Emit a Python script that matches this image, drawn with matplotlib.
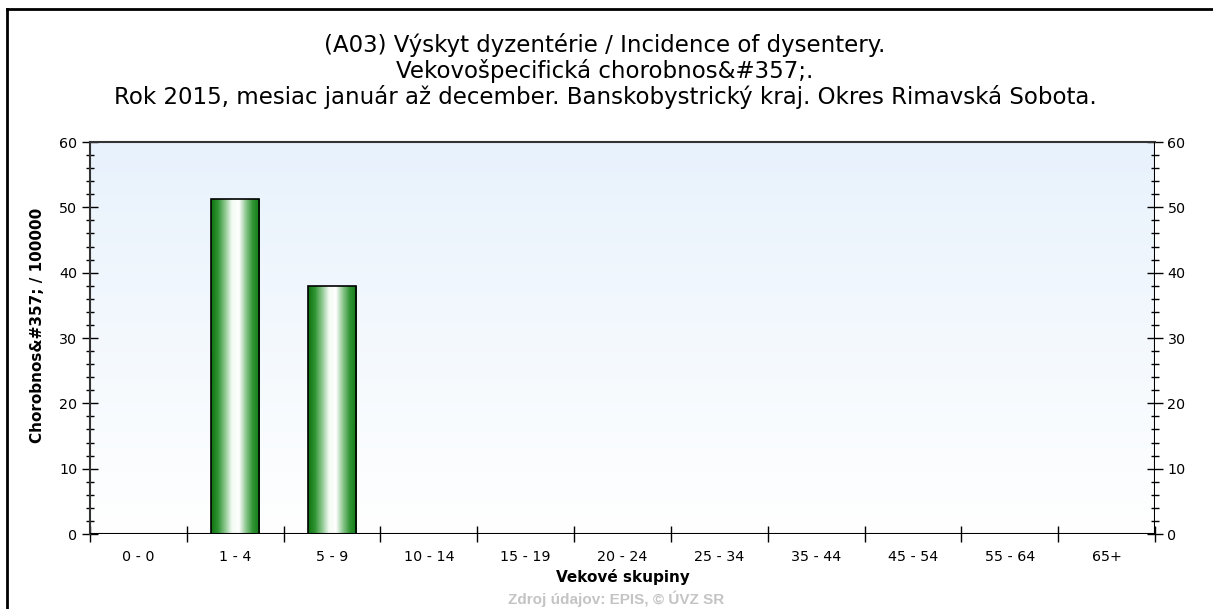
"""
plot.py

Age-specific incidence of dysentery, Rimavska Sobota, 2015.
"""

import numpy as np
import matplotlib.pyplot as plt
from matplotlib.colors import LinearSegmentedColormap
from matplotlib.patches import Rectangle
from matplotlib.lines import Line2D

plt.rcParams["font.family"] = ["DejaVu Sans"]

age_groups = ["0 - 0", "1 - 4", "5 - 9", "10 - 14", "15 - 19", "20 - 24",
              "25 - 34", "35 - 44", "45 - 54", "55 - 64", "65+"]
incidence = [0, 51.2, 38.0, 0, 0, 0, 0, 0, 0, 0, 0]

title_lines = ["(A03) Výskyt dyzentérie / Incidence of dysentery.",
               "Vekovošpecifická chorobnos&#357;.",
               "Rok 2015, mesiac január až december. Banskobystrický kraj. Okres Rimavská Sobota."]

W, H = 1213, 609
fig = plt.figure(figsize=(W / 100, H / 100), dpi=100)
ax = fig.add_axes([90 / W, 1 - 534 / H, 1065 / W, 392 / H])

n = len(age_groups)

# background gradient: light blue on top, white at the bottom
bg = LinearSegmentedColormap.from_list("bg", ["#ffffff", "#e8f2fc"])
ax.imshow(np.linspace(0, 1, 256).reshape(-1, 1), cmap=bg, aspect="auto",
          extent=[0, n, 0, 60], origin="lower", zorder=0)

# bars with a cylinder-like green gradient
barcm = LinearSegmentedColormap.from_list(
    "bar", ["#0c720e", "#2f9432", "#8cc78e", "#f4fbf4", "#ffffff", "#8cc78e", "#2f9432", "#137a15"])
grad = np.linspace(0, 1, 256).reshape(1, -1)
width = 0.5
for i, v in enumerate(incidence):
    if v <= 0:
        continue
    x0 = i + 0.5 - width / 2
    im = ax.imshow(grad, cmap=barcm, aspect="auto",
                   extent=[x0, x0 + width, 0, v], zorder=2)
    rect = Rectangle((x0, 0), width, v, facecolor="none", edgecolor="black", lw=1.2, zorder=3)
    ax.add_patch(rect)
    im.set_clip_path(rect)

ax.set_xlim(0, n)
ax.set_ylim(0, 60)

for s in ["right", "bottom"]:
    ax.spines[s].set_visible(False)
for s in ["left", "top"]:
    ax.spines[s].set_color("#333333")
    ax.spines[s].set_linewidth(1.5)

# x ticks at category borders, labels at centers
ax.set_xticks(np.arange(0, n + 1))
ax.set_xticklabels([])
ax.set_xticks(np.arange(n) + 0.5, minor=True)
ax.set_xticklabels(age_groups, minor=True, fontsize=10.3)
ax.tick_params(axis="x", which="major", direction="inout", length=12, width=1.0, color="black")
ax.tick_params(axis="x", which="minor", length=0, pad=11.5)
ax.axhline(0, color="black", lw=1.5, zorder=4)

ax.set_yticks(np.arange(0, 61, 10))
ax.set_yticks(np.arange(0, 61, 2), minor=True)
ax.tick_params(axis="y", which="major", direction="inout", length=12, width=1.0,
               labelsize=10.3, left=True, right=True, labelleft=True, labelright=True, pad=3)
ax.tick_params(axis="y", which="minor", direction="inout", length=6, width=1.0,
               left=True, right=True)
ax.axvline(n, color="black", lw=1.5, zorder=4)

ax.set_ylabel("Chorobnos&#357; / 100000", fontsize=11, fontweight="bold")
ax.yaxis.set_label_coords(-0.0423, 0.533)
ax.set_xlabel("Vekové skupiny", fontsize=11, fontweight="bold", va="center")
ax.xaxis.set_label_coords(0.5, -43 / 392)

for yc, line in zip([45, 71, 97], title_lines):
    fig.text(605 / W, 1 - yc / H, line, ha="center", va="center", fontsize=16.5)

fig.text(616 / W, 1 - 599 / H, "Zdroj údajov: EPIS, © ÚVZ SR", ha="center", va="center",
         fontsize=11, fontweight="bold", color="#c4c4c4", family="Liberation Sans")

# outer frame (left and top edges)
fig.add_artist(Line2D([6.5 / W, 6.5 / W], [0, 1 - 8.5 / H], transform=fig.transFigure, color="black", lw=2))
fig.add_artist(Line2D([6.5 / W, 1], [1 - 8.5 / H, 1 - 8.5 / H], transform=fig.transFigure, color="black", lw=2))

fig.savefig("out.png", dpi=100)
